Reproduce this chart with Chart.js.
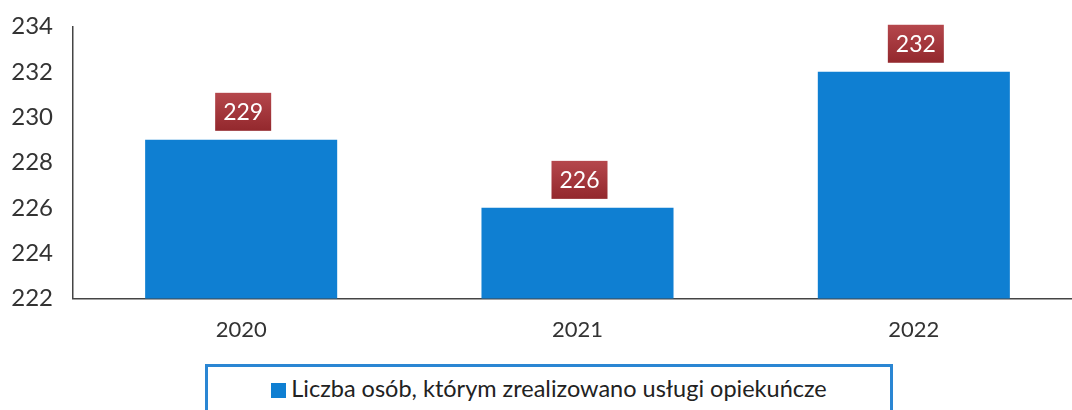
<!DOCTYPE html>
<html>
<head>
<meta charset="utf-8">
<script src="https://cdn.jsdelivr.net/npm/chart.js@4"></script>
<style>
  html, body { margin: 0; padding: 0; background: #fff; }
  #wrap { position: relative; width: 1072px; height: 410px; overflow: hidden; }
  #box { position: absolute; left: 0; top: 0; width: 1082px; height: 357px; }
  #legend {
    position: absolute; left: 205px; top: 364px; width: 682px; height: 60px;
    border: 3px solid #2a86d3; box-sizing: content-box;
    font-family: Lato, sans-serif; font-size: 23.5px; color: #222;
    text-align: center; line-height: 42px;
  }
  #legend span.sw {
    display: inline-block; width: 15px; height: 15px; background: #0f7fd2;
    margin-right: 5px; vertical-align: -1px;
  }
</style>
</head>
<body>
<div id="wrap">
  <div id="box"><canvas id="chart"></canvas></div>
  <div id="legend"><span class="sw"></span>Liczba osób, którym zrealizowano usługi opiekuńcze</div>
</div>
<script>
const years = ['2020', '2021', '2022'];
const persons = [229, 226, 232];
const seriesName = 'Liczba osób, którym zrealizowano usługi opiekuńcze';

// ramki z wartościami nad słupkami
const valueBoxes = {
    id: 'valueBoxes',
    afterDatasetsDraw(chart) {
        const ctx = chart.ctx;
        const meta = chart.getDatasetMeta(0);
        ctx.save();
        ctx.font = '23px Lato, sans-serif';
        ctx.textAlign = 'center';
        ctx.textBaseline = 'middle';
        meta.data.forEach((bar, i) => {
            const w = 56, h = 38;
            const x = bar.x - w / 2 + 2;
            const y = bar.y - h - 9;
            const g = ctx.createLinearGradient(0, y, 0, y + h);
            g.addColorStop(0, '#b5474c');
            g.addColorStop(1, '#93282d');
            ctx.fillStyle = g;
            ctx.fillRect(x, y, w, h);
            ctx.fillStyle = '#fff';
            ctx.fillText(String(persons[i]), bar.x + 2, y + h / 2 + 1);
        });
        ctx.restore();
    }
};

const ctx = document.getElementById('chart').getContext('2d');
new Chart(ctx, {
    type: 'bar',
    data: {
        labels: years,
        datasets: [{
            label: seriesName,
            data: persons,
            backgroundColor: '#0f7fd2',
            categoryPercentage: 1,
            barPercentage: 0.571
        }]
    },
    options: {
        responsive: true,
        maintainAspectRatio: false,
        animation: false,
        layout: { padding: { top: 8, right: 0, bottom: 4, left: 0 } },
        plugins: { legend: { display: false }, tooltip: { enabled: false } },
        scales: {
            x: {
                grid: { display: false },
                border: { display: true, color: '#444', width: 1.5 },
                ticks: { color: '#333', font: { family: 'Lato', size: 22 }, padding: 10 }
            },
            y: {
                min: 222,
                max: 234,
                grid: { display: false },
                border: { display: true, color: '#444', width: 1.5 },
                ticks: { stepSize: 2, color: '#333', font: { family: 'Lato', size: 24 }, padding: 12 },
                afterFit(scale) { scale.width = 73; }
            }
        }
    },
    plugins: [valueBoxes]
});
</script>
</body>
</html>
